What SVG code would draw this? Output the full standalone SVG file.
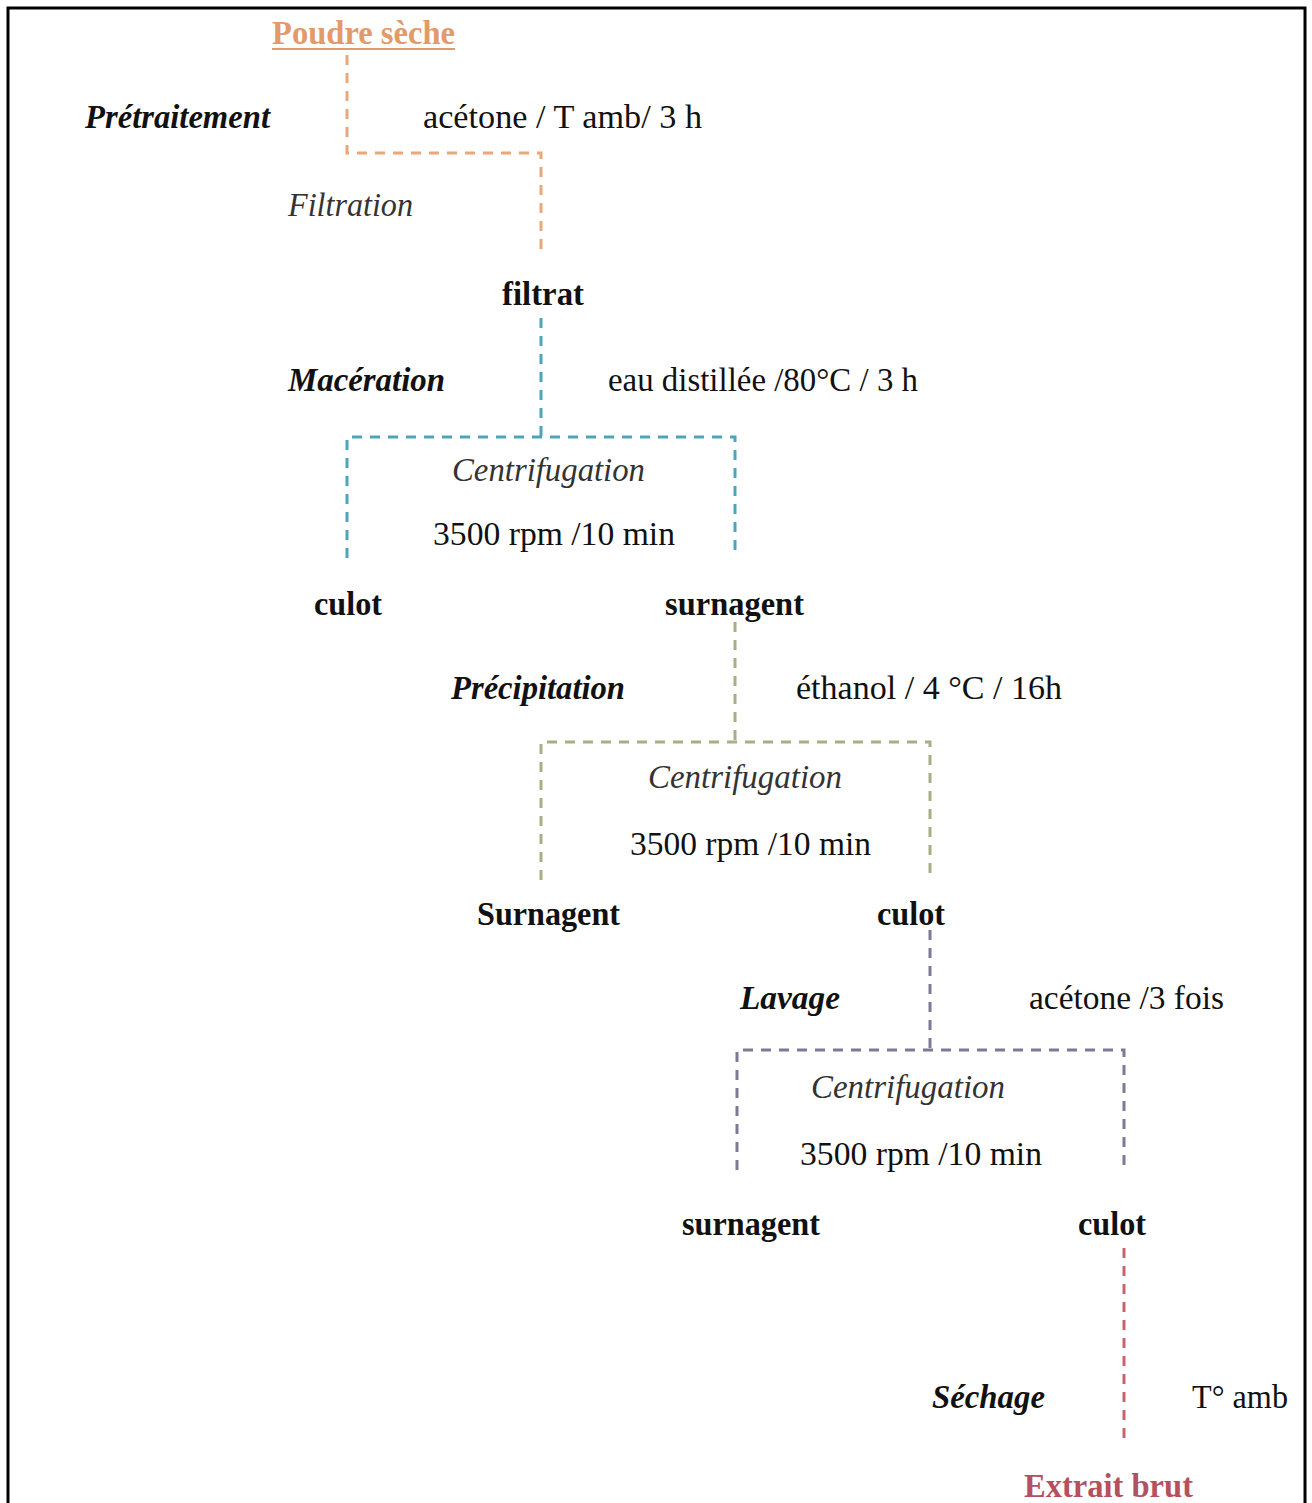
<svg xmlns="http://www.w3.org/2000/svg" width="1312" height="1503" viewBox="0 0 1312 1503">
<style>
text{font-family:"Liberation Serif","Times New Roman",serif;font-size:34px;fill:#111;}
.b{font-weight:bold;}
.bi{font-weight:bold;font-style:italic;}
.i{font-style:italic;fill:#333;}
.c{fill:none;stroke-width:3;stroke-dasharray:10 8;}
.or{stroke:#e9a77a;}
.bl{stroke:#4da5bb;}
.gr{stroke:#a9ae84;}
.pu{stroke:#7b7b96;}
.rd{stroke:#c7646f;}
</style>
<rect x="8" y="8" width="1297" height="1510" fill="#fff" stroke="#000" stroke-width="3"/>
<g id="connectors">
<path class="c or" d="M347 55V153H541V250"/>
<path class="c bl" d="M541 318V437"/>
<path class="c bl" d="M347 558V437H735V558"/>
<path class="c gr" d="M735 622V742"/>
<path class="c gr" d="M541 880V742H930V880"/>
<path class="c pu" d="M930 930V1050"/>
<path class="c pu" d="M737 1170V1050H1124V1170"/>
<path class="c rd" d="M1124 1248V1440"/>
</g>
<g id="poudre"><text x="272" y="44" class="b" style="fill:#e39a68" textLength="183" lengthAdjust="spacingAndGlyphs">Poudre sèche</text><line x1="272" y1="49" x2="455" y2="49" stroke="#e39a68" stroke-width="2"/></g>
<g id="pretraitement"><text x="85" y="128" class="bi" textLength="185" lengthAdjust="spacingAndGlyphs">Prétraitement</text></g>
<g id="cond1"><text x="423" y="128" textLength="279" lengthAdjust="spacingAndGlyphs">acétone / T amb/  3 h</text></g>
<g id="filtration"><text x="288" y="216" class="i" textLength="125" lengthAdjust="spacingAndGlyphs">Filtration</text></g>
<g id="filtrat"><text x="502" y="305" class="b" textLength="82" lengthAdjust="spacingAndGlyphs">filtrat</text></g>
<g id="maceration"><text x="288" y="391" class="bi" textLength="157" lengthAdjust="spacingAndGlyphs">Macération</text></g>
<g id="cond2"><text x="608" y="391" textLength="310" lengthAdjust="spacingAndGlyphs">eau distillée /80°C / 3 h</text></g>
<g id="centri1"><text x="452" y="481" class="i" textLength="193" lengthAdjust="spacingAndGlyphs">Centrifugation</text><text x="433" y="545" textLength="242" lengthAdjust="spacingAndGlyphs">3500 rpm /10 min</text></g>
<g id="culot1"><text x="314" y="615" class="b" textLength="68" lengthAdjust="spacingAndGlyphs">culot</text></g>
<g id="surnagent1"><text x="665" y="615" class="b" textLength="139" lengthAdjust="spacingAndGlyphs">surnagent</text></g>
<g id="precipitation"><text x="451" y="699" class="bi" textLength="174" lengthAdjust="spacingAndGlyphs">Précipitation</text></g>
<g id="cond3"><text x="796" y="699" textLength="266" lengthAdjust="spacingAndGlyphs">éthanol  / 4 °C / 16h</text></g>
<g id="centri2"><text x="648" y="788" class="i" textLength="194" lengthAdjust="spacingAndGlyphs">Centrifugation</text><text x="630" y="855" textLength="241" lengthAdjust="spacingAndGlyphs">3500 rpm /10 min</text></g>
<g id="surnagent2"><text x="477" y="925" class="b" textLength="143" lengthAdjust="spacingAndGlyphs">Surnagent</text></g>
<g id="culot2"><text x="877" y="925" class="b" textLength="68" lengthAdjust="spacingAndGlyphs">culot</text></g>
<g id="lavage"><text x="740" y="1009" class="bi" textLength="100" lengthAdjust="spacingAndGlyphs">Lavage</text></g>
<g id="cond4"><text x="1029" y="1009" textLength="195" lengthAdjust="spacingAndGlyphs">acétone /3 fois</text></g>
<g id="centri3"><text x="811" y="1098" class="i" textLength="194" lengthAdjust="spacingAndGlyphs">Centrifugation</text><text x="800" y="1165" textLength="242" lengthAdjust="spacingAndGlyphs">3500 rpm /10 min</text></g>
<g id="surnagent3"><text x="682" y="1235" class="b" textLength="138" lengthAdjust="spacingAndGlyphs">surnagent</text></g>
<g id="culot3"><text x="1078" y="1235" class="b" textLength="68" lengthAdjust="spacingAndGlyphs">culot</text></g>
<g id="sechage"><text x="932" y="1408" class="bi" textLength="113" lengthAdjust="spacingAndGlyphs">Séchage</text></g>
<g id="cond5"><text x="1192" y="1408" textLength="96" lengthAdjust="spacingAndGlyphs">T° amb</text></g>
<g id="extrait"><text x="1024" y="1497" class="b" style="fill:#b4505f" textLength="169" lengthAdjust="spacingAndGlyphs">Extrait brut</text></g>
</svg>
